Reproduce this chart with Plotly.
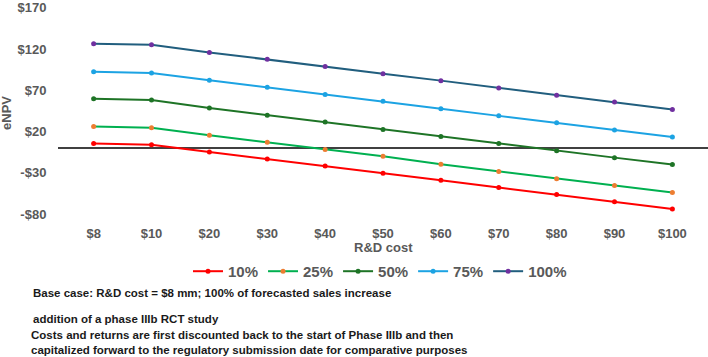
import plotly.graph_objects as go

categories = ["$8", "$10", "$20", "$30", "$40", "$50", "$60", "$70", "$80", "$90", "$100"]
series_names = ["10%", "25%", "50%", "75%", "100%"]
v10 = [5.6, 4.0, -4.8, -13.2, -21.5, -30.3, -39.0, -47.8, -56.2, -65.0, -73.7]
v25 = [26.3, 24.8, 15.6, 7.2, -1.6, -9.9, -19.5, -28.3, -37.0, -45.4, -53.8]
v50 = [59.8, 58.3, 48.7, 40.0, 31.6, 22.7, 14.0, 5.6, -3.1, -11.5, -19.9]
v75 = [92.6, 91.0, 82.2, 73.8, 65.0, 56.7, 47.8, 39.1, 30.7, 22.0, 13.6]
v100 = [126.4, 125.2, 116.0, 107.7, 98.9, 90.2, 81.8, 73.0, 64.2, 55.9, 46.7]
y_tickvals = [-80, -30, 20, 70, 120, 170]
y_ticktext = ["-$80", "-$30", "$20", "$70", "$120", "$170"]

line_colors = ["#FF0000", "#00B050", "#1E7426", "#1CA3E3", "#215E7E"]
marker_colors = ["#FF0000", "#ED7D31", "#1E7426", "#1CA3E3", "#7030A0"]
values = [v10, v25, v50, v75, v100]

fig = go.Figure()
for name, vals, lc, mc in zip(series_names, values, line_colors, marker_colors):
    fig.add_trace(go.Scatter(
        x=categories, y=vals, name=name, mode="lines+markers",
        line=dict(color=lc, width=2),
        marker=dict(color=mc, size=5),
    ))

W, H = 708, 357
L, R, T, B = 58, 0, 5, 142
pw, ph = W - L - R, H - T - B

def px(x):
    return (x - L) / pw

def py(y):
    return (H - B - y) / ph

gray = "#595959"
fig.update_layout(
    width=W, height=H,
    margin=dict(l=L, r=R, t=T, b=B),
    paper_bgcolor="white", plot_bgcolor="white",
    font=dict(family="Arial", color=gray),
    showlegend=True,
    legend=dict(orientation="h", x=px(380), y=py(272), xanchor="center", yanchor="middle",
                font=dict(size=15, color=gray, family="Arial", weight="bold"),
                itemwidth=30, tracegroupgap=0, bgcolor="rgba(0,0,0,0)"),
    xaxis=dict(type="category", showgrid=False, showline=False, zeroline=False,
               ticks="outside", ticklen=6, tickcolor="rgba(0,0,0,0)",
               tickfont=dict(size=13, color=gray, family="Arial", weight="bold")),
    yaxis=dict(range=[-81, 171], tickvals=y_tickvals, ticktext=y_ticktext,
               showgrid=False, showline=False, zeroline=True,
               zerolinecolor="#404040", zerolinewidth=1.5,
               ticks="outside", ticklen=8, tickcolor="rgba(0,0,0,0)",
               ticklabeloverflow="allow",
               tickfont=dict(size=13, color=gray, family="Arial", weight="bold")),
)

annos = [
    dict(text="<b>R&D cost</b>", x=px(383), y=py(248), xanchor="center", yanchor="middle",
         font=dict(size=13, color=gray)),
    dict(text="<b>eNPV</b>", x=px(7), y=py(112), xanchor="center", yanchor="middle",
         textangle=-90, font=dict(size=13, color=gray)),
    dict(text="<b>Base case: R&D cost = $8 mm; 100% of forecasted sales increase</b>",
         x=px(31), y=py(294), xanchor="left", yanchor="middle", font=dict(size=11.5, color="#1a1a1a")),
    dict(text="<b>addition of a phase IIIb RCT study</b>",
         x=px(31), y=py(320), xanchor="left", yanchor="middle", font=dict(size=11.5, color="#1a1a1a")),
    dict(text="<b>Costs and returns are first discounted back to the start of Phase IIIb and then</b>",
         x=px(29), y=py(336), xanchor="left", yanchor="middle", font=dict(size=11.5, color="#1a1a1a")),
    dict(text="<b>capitalized forward to the regulatory submission date for comparative purposes</b>",
         x=px(29), y=py(351), xanchor="left", yanchor="middle", font=dict(size=11.5, color="#1a1a1a")),
]
for a in annos:
    fig.add_annotation(xref="paper", yref="paper", showarrow=False, **a)

fig.write_html("out.html")
